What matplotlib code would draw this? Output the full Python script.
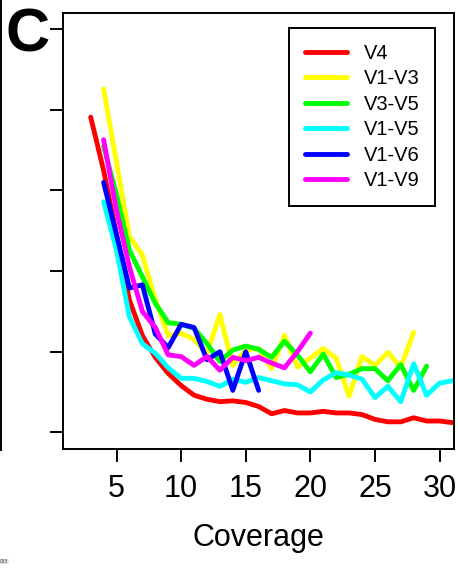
import matplotlib
matplotlib.use("Agg")
import matplotlib.pyplot as plt
from matplotlib.lines import Line2D

plt.rcParams["font.family"] = ["Liberation Sans", "DejaVu Sans"]

# ── Data (error vs coverage) ──────────────────────────────────────────────
x_v4 = list(range(3, 32))
y_v4 = [3.91, 3.25, 2.45, 1.64, 1.20, 0.93, 0.73, 0.58, 0.46, 0.41, 0.38, 0.39, 0.37,
        0.32, 0.23, 0.27, 0.24, 0.24, 0.26, 0.24, 0.24, 0.22, 0.16, 0.13, 0.13, 0.18,
        0.14, 0.14, 0.12]

x_v1v3 = list(range(4, 29))
y_v1v3 = [4.26, 3.35, 2.43, 2.20, 1.65, 1.20, 1.23, 1.15, 0.98, 1.46, 0.83, 1.02, 1.04,
          0.79, 1.20, 0.81, 0.92, 1.04, 0.92, 0.45, 0.94, 0.83, 0.99, 0.81, 1.24]

x_v3v5 = list(range(4, 30))
y_v3v5 = [3.55, 2.95, 2.26, 1.93, 1.60, 1.36, 1.34, 1.29, 1.10, 0.88, 1.02, 1.07, 1.03,
          0.93, 1.13, 0.96, 0.75, 0.97, 0.68, 0.72, 0.79, 0.79, 0.64, 0.84, 0.52, 0.82]

x_v1v5 = list(range(4, 32))
y_v1v5 = [2.86, 2.26, 1.43, 1.10, 0.98, 0.80, 0.67, 0.67, 0.63, 0.57, 0.66, 0.62, 0.68,
          0.64, 0.60, 0.59, 0.50, 0.65, 0.74, 0.71, 0.66, 0.43, 0.57, 0.38, 0.85, 0.46,
          0.61, 0.64]

x_v1v6 = list(range(4, 17))
y_v1v6 = [3.10, 2.45, 1.79, 1.83, 1.22, 1.05, 1.34, 1.30, 0.90, 1.00, 0.52, 1.00, 0.52]

x_v1v9 = list(range(4, 21))
y_v1v9 = [3.63, 2.75, 2.05, 1.50, 1.30, 0.96, 0.94, 0.83, 0.94, 0.77, 0.93, 0.89, 0.93,
          0.86, 0.80, 1.00, 1.23]

SERIES = [
    ("V4",    x_v4,   y_v4,   "#ff0000"),
    ("V1-V3", x_v1v3, y_v1v3, "#ffff00"),
    ("V3-V5", x_v3v5, y_v3v5, "#00ff00"),
    ("V1-V5", x_v1v5, y_v1v5, "#00ffff"),
    ("V1-V6", x_v1v6, y_v1v6, "#0000ff"),
    ("V1-V9", x_v1v9, y_v1v9, "#ff00ff"),
]
X_TICKS = [5, 10, 15, 20, 25, 30]
Y_TICKS = [0, 1, 2, 3, 4, 5]

W, H = 458, 571
fig = plt.figure(figsize=(W / 100, H / 100), dpi=100)
fig.patch.set_facecolor("white")
ax = fig.add_axes([63.3 / W, 1 - 449.3 / H, (454 - 63.3) / W, (449.3 - 12.7) / H])

for lbl, xs, ys, col in SERIES:
    ax.plot(xs, ys, color=col, linewidth=3.5, label=lbl,
            solid_capstyle="round", solid_joinstyle="round")

ax.set_xlim(0.88, 31.12)
ax.set_ylim(-0.211, 5.206)
ax.set_xticks(X_TICKS)
ax.set_yticks(Y_TICKS)
ax.set_yticklabels([])
ax.tick_params(direction="out", length=9.5, width=1.4, labelsize=22, pad=8, colors="black")
for sp in ax.spines.values():
    sp.set_linewidth(1.4)
ax.set_xlabel("Coverage", fontsize=22, labelpad=14)

leg = ax.legend(loc="upper right", bbox_to_anchor=(435 / W, 1 - 28.3 / H),
                bbox_transform=fig.transFigure, borderaxespad=0, fontsize=14.5,
                fancybox=False, framealpha=1, edgecolor="black",
                handlelength=2.08, handletextpad=0.83, labelspacing=0.32,
                borderpad=0.78)
leg.get_frame().set_linewidth(1.4)
for h in leg.get_lines():
    h.set_linewidth(3.5)

# panel letter and neighbouring panel border
fig.text(5 / W, 1 - 51 / H, "C", fontsize=44, fontweight="bold", ha="left", va="baseline")
fig.add_artist(Line2D([1.2 / W, 1.2 / W], [1, 1 - 450 / H], color="black", linewidth=1.4))
fig.text(0, 1 - 563 / H, "015", fontsize=3.5, color="#444444", ha="left", va="baseline",
         bbox=dict(facecolor="#e6e6e6", edgecolor="none", pad=0.3))

fig.savefig("out.png", dpi=100, facecolor="white")
